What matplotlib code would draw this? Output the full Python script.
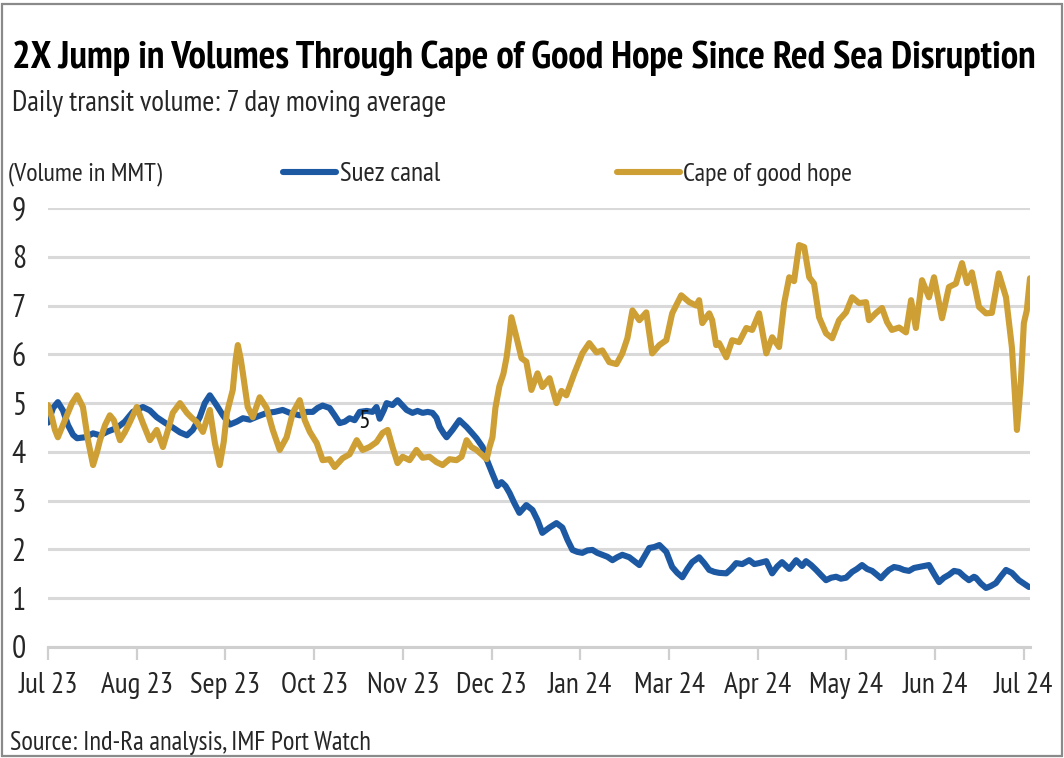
import matplotlib
matplotlib.use('Agg')
import matplotlib.pyplot as plt
from matplotlib import font_manager
from matplotlib.patches import Rectangle
from matplotlib.lines import Line2D
import numpy as np

# ── fonts: the original is Arial Narrow, take the closest narrow face we have ──
_faces = font_manager.fontManager.ttflist
_wanted = ['Arial Narrow', 'Liberation Sans Narrow', 'Nimbus Sans Narrow', 'Archivo Narrow',
           'PT Sans Narrow', 'Roboto Condensed', 'Encode Sans Condensed', 'Fira Sans Condensed',
           'IBM Plex Sans Condensed', 'Open Sans Condensed', 'Pragati Narrow',
           'Liberation Sans']


def _has(name, bold=False):
    return any(f.name == name and (not bold or int(f.weight) >= 600) for f in _faces)


FONT = next(n for n in _wanted if _has(n, bold=True))
plt.rcParams['font.family'] = [FONT, 'DejaVu Sans']

BLUE = '#1d59a3'
GOLD = '#cd9f35'
GRID = '#d9d9d9'
TXT = '#262626'

# ── data (days since 1 Jul 2023, volume in MMT) ──
month_labels = ['Jul 23', 'Aug 23', 'Sep 23', 'Oct 23', 'Nov 23', 'Dec 23',
                'Jan 24', 'Mar 24', 'Apr 24', 'May 24', 'Jun 24', 'Jul 24']

suez_day = [0.0, 1.9, 3.7, 5.6, 7.5, 9.4, 10.9, 13.9, 16.9, 19.5, 22.5, 25.8, 28.8,
            31.8, 35.6, 38.2, 40.8, 43.8, 46.8, 49.5, 52.1, 54.3, 56.9, 58.8, 60.7,
            63.3, 65.6, 68.2, 70.8, 73.1, 75.7, 78.3, 82.1, 85.0, 88.0, 90.7, 94.4,
            97.0, 99.3, 101.1, 103.0, 105.6, 107.5, 109.4, 111.3, 113.1, 115.0, 116.9,
            119.5, 121.7, 123.2, 124.4, 125.9, 127.0, 129.2, 131.1, 133.0, 134.5,
            136.7, 138.6, 140.5, 142.4, 144.2, 145.7, 146.9, 148.4, 149.5, 151.7,
            154.3, 157.0, 158.8, 160.7, 163.0, 164.5, 166.7, 168.6, 170.1, 171.6,
            173.1, 174.9, 176.8, 179.4, 181.7, 183.6, 185.4, 188.1, 190.7, 192.9,
            194.8, 196.7, 198.5, 200.4, 202.3, 204.2, 206.0, 207.9, 209.8, 211.7,
            213.5, 215.4, 218.0, 219.9, 221.8, 223.6, 225.5, 227.4, 229.3, 231.9,
            234.1, 236.0, 237.9, 239.8, 241.6, 244.2, 246.1, 248.0, 249.9, 251.7,
            254.4, 256.2, 258.1, 260.4, 263.0, 264.9, 266.7, 269.4, 271.6, 273.5,
            275.3, 278.0, 280.6, 282.8, 284.3, 286.2, 288.1, 290.0, 291.8, 293.7,
            295.6, 297.4, 299.3, 301.6, 303.4, 305.3, 307.2, 309.1, 310.9, 312.4,
            313.9, 315.4, 317.3, 319.2, 321.0, 322.9, 324.8, 326.7, 328.5, 330.4,
            332.3, 334.2, 336.0, 337.9, 339.8, 341.7, 343.5, 345.4, 347.3, 348.0,
            349.9, 351.8, 353.6, 355.5, 357.4, 359.3, 361.5, 364.1, 366.0, 367.9]
suez_val = [4.6, 4.9, 5.02, 4.85, 4.55, 4.35, 4.28, 4.3, 4.38, 4.34, 4.42, 4.49, 4.62,
            4.82, 4.92, 4.85, 4.71, 4.6, 4.5, 4.4, 4.34, 4.45, 4.71, 5.0, 5.16,
            4.95, 4.75, 4.56, 4.62, 4.69, 4.66, 4.72, 4.8, 4.82, 4.86, 4.8, 4.75,
            4.82, 4.82, 4.9, 4.95, 4.9, 4.75, 4.59, 4.62, 4.69, 4.65, 4.82,
            4.84, 4.82, 4.92, 4.68, 4.85, 5.0, 4.96, 5.06, 4.95, 4.86,
            4.8, 4.84, 4.8, 4.82, 4.8, 4.7, 4.51, 4.38, 4.3, 4.45,
            4.65, 4.51, 4.4, 4.28, 4.1, 3.85, 3.55, 3.3, 3.38, 3.3,
            3.16, 2.95, 2.75, 2.91, 2.81, 2.6, 2.34, 2.45, 2.54, 2.45,
            2.2, 1.99, 1.95, 1.93, 1.98, 1.99, 1.93, 1.89, 1.85, 1.78,
            1.84, 1.89, 1.84, 1.76, 1.68, 1.85, 2.03, 2.05, 2.09, 1.95,
            1.64, 1.52, 1.43, 1.6, 1.74, 1.84, 1.72, 1.58, 1.54, 1.52,
            1.51, 1.6, 1.72, 1.7, 1.78, 1.7, 1.72, 1.76, 1.51, 1.65,
            1.74, 1.6, 1.78, 1.66, 1.76, 1.68, 1.58, 1.47, 1.37, 1.42,
            1.44, 1.4, 1.42, 1.54, 1.6, 1.68, 1.6, 1.56, 1.48, 1.41,
            1.5, 1.58, 1.64, 1.62, 1.58, 1.56, 1.62, 1.64, 1.66, 1.68,
            1.5, 1.33, 1.42, 1.48, 1.56, 1.54, 1.45, 1.37, 1.44, 1.42,
            1.3, 1.21, 1.25, 1.31, 1.45, 1.58, 1.52, 1.37, 1.3, 1.23]

cape_day = [0.0, 1.5, 2.6, 3.7, 5.2, 7.1, 9.0, 10.9, 13.1, 15.0, 16.9, 18.4, 19.5,
            21.4, 23.2, 24.7, 25.8, 27.0, 28.8, 30.7, 33.3, 35.6, 38.2, 40.8, 43.1,
            45.0, 46.8, 49.5, 52.1, 53.9, 55.8, 58.1, 60.7, 62.6, 64.4, 65.9, 67.1,
            69.3, 70.4, 71.2, 72.3, 73.1, 74.9, 76.8, 79.4, 82.0, 84.3, 86.9, 89.5,
            91.8, 94.4, 96.3, 98.2, 100.8, 103.0, 105.6, 107.5, 110.5, 113.1, 115.8,
            118.0, 120.6, 123.2, 125.5, 127.4, 129.2, 131.1, 133.0, 135.6, 138.2,
            140.5, 143.1, 145.7, 148.0, 150.6, 153.2, 155.1, 157.0, 158.8, 160.7,
            163.0, 164.5, 165.6, 166.7, 167.8, 169.3, 170.8, 172.0, 173.1, 173.8,
            175.7, 177.6, 179.4, 181.3, 183.6, 185.4, 188.1, 190.7, 192.6, 194.4,
            197.4, 200.4, 203.0, 205.7, 207.9, 210.5, 213.2, 215.4, 217.3, 219.2,
            221.8, 224.4, 226.6, 229.3, 231.9, 234.1, 237.5, 240.5, 243.1, 244.2,
            245.4, 246.9, 248.0, 249.1, 250.6, 251.7, 254.4, 256.6, 259.2, 261.9,
            264.1, 266.7, 269.4, 271.6, 274.2, 276.1, 278.0, 279.8, 281.7, 283.6,
            285.5, 287.3, 289.2, 291.8, 294.1, 296.7, 299.3, 301.6, 304.2, 306.8,
            307.9, 310.6, 312.8, 314.7, 316.5, 319.2, 321.8, 323.7, 325.5, 327.8,
            330.4, 332.3, 335.3, 337.9, 340.5, 342.8, 344.7, 346.5, 349.2, 351.8,
            354.0, 356.6, 359.3, 361.5, 362.6, 363.4, 364.1, 364.9, 366.0, 367.1,
            368.3]
cape_val = [4.96, 4.7, 4.45, 4.3, 4.5, 4.75, 5.0, 5.16, 4.92, 4.24, 3.73, 4.0, 4.24,
            4.55, 4.75, 4.65, 4.45, 4.24, 4.4, 4.61, 4.92, 4.59, 4.24, 4.45, 4.1,
            4.45, 4.8, 5.0, 4.8, 4.7, 4.61, 4.41, 4.86, 4.18, 3.73, 4.2, 4.8,
            5.27, 5.9, 6.19, 5.9, 5.61, 4.92, 4.71, 5.12, 4.9, 4.45, 4.04, 4.3,
            4.8, 5.06, 4.65, 4.41, 4.18, 3.83, 3.85, 3.69, 3.87, 3.95, 4.24,
            4.04, 4.1, 4.2, 4.39, 4.45, 4.1, 3.77, 3.9, 3.83, 4.04,
            3.88, 3.9, 3.79, 3.73, 3.85, 3.83, 3.9, 4.24, 4.1, 4.04,
            3.93, 3.85, 4.1, 4.3, 4.9, 5.35, 5.6, 5.94, 6.4, 6.76,
            6.35, 5.92, 5.85, 5.27, 5.61, 5.33, 5.51, 5.0, 5.25, 5.16,
            5.61, 6.02, 6.23, 6.04, 6.08, 5.84, 5.8, 6.02, 6.33, 6.9,
            6.7, 6.86, 6.02, 6.19, 6.29, 6.84, 7.21, 7.07, 7.0, 7.11,
            6.64, 6.76, 6.84, 6.7, 6.19, 6.23, 5.94, 6.29, 6.25, 6.54,
            6.5, 6.84, 6.02, 6.35, 6.15, 7.05, 7.58, 7.5, 8.24, 8.2,
            7.58, 7.45, 6.76, 6.43, 6.33, 6.7, 6.86, 7.17, 7.05, 7.07,
            6.7, 6.85, 6.95, 6.66, 6.5, 6.55, 6.45, 7.11, 6.54, 7.52,
            7.17, 7.58, 6.74, 7.38, 7.45, 7.87, 7.46, 7.68, 6.97, 6.84,
            6.85, 7.66, 7.17, 6.15, 5.2, 4.45, 4.9, 5.47, 6.64, 6.9,
            7.56]

# ── canvas ──
W, H = 1064, 758
fig = plt.figure(figsize=(W / 100, H / 100), dpi=100, facecolor='white')
renderer = fig.canvas.get_renderer()


def fx(px):
    return px / W


def fy(py):
    # pixel rows counted from the top
    return 1 - py / H


def size_for(s, width_px, size=20, **kw):
    """font size at which s is width_px wide"""
    t = fig.text(0, 0, s, fontsize=size, **kw)
    w = t.get_window_extent(renderer=renderer).width
    t.remove()
    return size * width_px / w


def fit_text(x, y, s, width_px, color=TXT, **kw):
    """place text (left, baseline) so that it spans width_px"""
    return fig.text(fx(x), fy(y), s, fontsize=size_for(s, width_px, **kw),
                    ha='left', va='baseline', color=color, **kw)


tick_size = size_for('Nov 23', 72)

# ── plot area ──
ax = fig.add_axes([fx(48), fy(647), (1030 - 48) / W, (647 - 208) / H])
ax.plot(suez_day, suez_val, color=BLUE, lw=4.4, solid_joinstyle='round',
        solid_capstyle='round', zorder=3)
ax.plot(cape_day, cape_val, color=GOLD, lw=4.4, solid_joinstyle='round',
        solid_capstyle='round', zorder=4)
ax.text(118.7, 4.62, '5', fontsize=tick_size * 0.9, color='#111111', ha='center',
        va='center', zorder=5)

ax.set_xlim(0, 368.3)
ax.set_ylim(0, 9)
ax.set_yticks(range(10))
ax.set_xticks(np.linspace(0, 366, len(month_labels)))
ax.set_xticklabels(month_labels)
ax.grid(axis='y', color=GRID, lw=2.2, zorder=0)
ax.set_axisbelow(True)
for s in ['top', 'right', 'left']:
    ax.spines[s].set_visible(False)
ax.spines['bottom'].set_color('#cfcfcf')
ax.spines['bottom'].set_linewidth(2.2)
ax.tick_params(axis='x', length=9, width=1.6, color='#cfcfcf', pad=9,
               labelsize=tick_size, labelcolor=TXT)
ax.tick_params(axis='y', length=0, pad=16, labelsize=tick_size * 1.08, labelcolor=TXT)

# ── titles ──
fit_text(12, 68, '2X Jump in Volumes Through Cape of Good Hope Since Red Sea Disruption',
         1028, color='black', weight='bold')
fit_text(12, 111, 'Daily transit volume: 7 day moving average', 433)
fit_text(8, 180, '(Volume in MMT)', 154)

# ── legend (drawn by hand, Excel style) ──
fig.add_artist(Line2D([fx(283), fx(336)], [fy(172), fy(172)], color=BLUE, lw=4.4,
                      solid_capstyle='round'))
fit_text(340, 181, 'Suez canal', 100)
fig.add_artist(Line2D([fx(617), fx(680)], [fy(172), fy(172)], color=GOLD, lw=4.4,
                      solid_capstyle='round'))
fit_text(683, 181, 'Cape of good hope', 169)

# ── source ──
fit_text(10, 750, 'Source: Ind-Ra analysis, IMF Port Watch', 360)

# ── outer frame ──
fig.add_artist(Rectangle((fx(2), fy(756)), fx(1060), 752 / H, transform=fig.transFigure,
                         fill=False, ec='#8a8a8a', lw=1.6))

fig.savefig('out.png', dpi=100, facecolor='white')
